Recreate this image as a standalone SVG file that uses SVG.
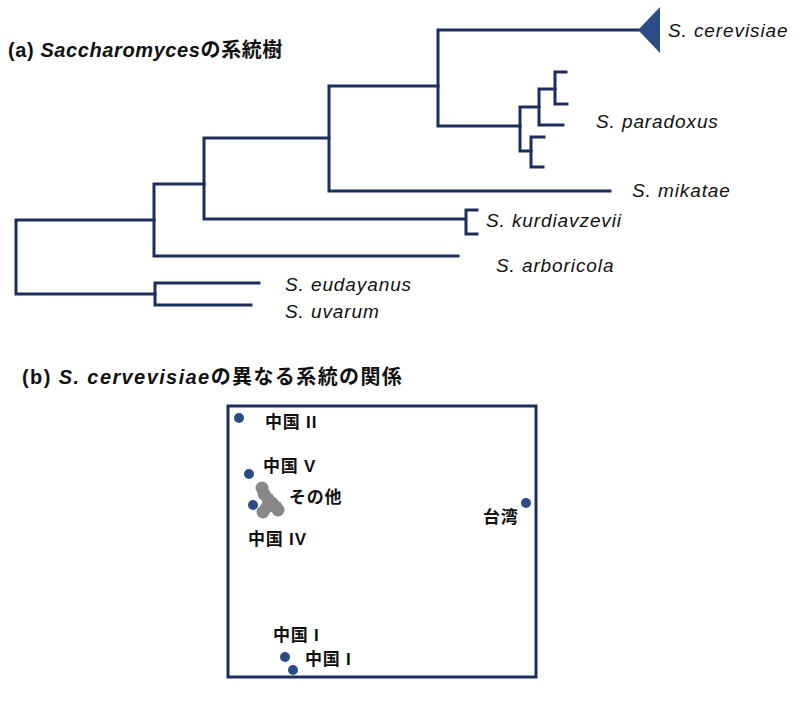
<svg xmlns="http://www.w3.org/2000/svg" width="800" height="709" viewBox="0 0 800 709">
<style>
.br{fill:none;stroke:#1c2f5c;stroke-width:3;stroke-linecap:square;stroke-linejoin:miter}
.sp{font-family:"Liberation Sans","Noto Sans CJK JP",sans-serif;font-style:italic;font-size:19px;fill:#111;letter-spacing:0.9px}
.ttl{font-family:"Liberation Sans","Noto Sans CJK JP",sans-serif;font-size:20px;font-weight:bold;fill:#111}
.lb{font-family:"Liberation Sans","Noto Sans CJK JP",sans-serif;font-size:17px;font-weight:bold;fill:#111;letter-spacing:0.8px}
.dot{fill:#2b4d86}
.gr{fill:#888}
</style>
<rect width="800" height="709" fill="#fff"/>
<g id="title-a"><text class="ttl" x="8" y="57" letter-spacing="0.6">(a) <tspan font-style="italic">Saccharomyces</tspan>の系統樹</text></g>
<g id="connectors">
<path class="br" d="M154,220 H16 V294 H155"/>
<path class="br" d="M259,283 H155 V305 H251"/>
<path class="br" d="M204,184 H154 V256 H458"/>
<path class="br" d="M329,138 H204 V219 H465"/>
<path class="br" d="M477,210 H466 V234 H477"/>
<path class="br" d="M438,86 H329 V191 H610"/>
<path class="br" d="M640,30 H438 V126 H520"/>
<path class="br" d="M539,107 H520 V151 H531"/>
<path class="br" d="M555,89 H539 V125 H563"/>
<path class="br" d="M566,72 H555 V104 H567"/>
<path class="br" d="M544,137 H531 V167 H543"/>
<polygon points="638,30 660,7 660,53" fill="#2b4d86"/>
</g>
<g id="n-cerevisiae"><text class="sp" x="668" y="37">S. cerevisiae</text></g>
<g id="n-paradoxus"><text class="sp" x="596" y="128">S. paradoxus</text></g>
<g id="n-mikatae"><text class="sp" x="632" y="197">S. mikatae</text></g>
<g id="n-kurdiavzevii"><text class="sp" x="486" y="227">S. kurdiavzevii</text></g>
<g id="n-arboricola"><text class="sp" x="496" y="272">S. arboricola</text></g>
<g id="n-eudayanus"><text class="sp" x="285" y="291">S. eudayanus</text></g>
<g id="n-uvarum"><text class="sp" x="285" y="318">S. uvarum</text></g>
<g id="title-b"><text class="ttl" x="22" y="384" letter-spacing="1.4">(b)  <tspan font-style="italic">S. cervevisiae</tspan>の異なる系統の関係</text></g>
<g id="box"><rect x="228" y="406" width="308" height="271" fill="none" stroke="#1c2f5c" stroke-width="3"/></g>
<g id="others">
<circle class="gr" cx="262" cy="488" r="6.5"/>
<circle class="gr" cx="264" cy="494" r="6.5"/>
<circle class="gr" cx="268" cy="499" r="6.5"/>
<circle class="gr" cx="272" cy="503" r="6.5"/>
<circle class="gr" cx="276" cy="507" r="6.5"/>
<circle class="gr" cx="278" cy="510" r="6.5"/>
<circle class="gr" cx="267" cy="507" r="6.5"/>
<circle class="gr" cx="263" cy="512" r="6.5"/>
<text class="lb" x="289" y="503">その他</text>
</g>
<g id="china2"><circle class="dot" cx="239" cy="418" r="5"/><text class="lb" x="265" y="428">中国 II</text></g>
<g id="china5"><circle class="dot" cx="249" cy="474" r="5"/><text class="lb" x="263" y="472">中国 V</text></g>
<g id="china4"><circle class="dot" cx="253" cy="505" r="5"/><text class="lb" x="248" y="545">中国 IV</text></g>
<g id="taiwan"><circle class="dot" cx="526" cy="503" r="5"/><text class="lb" x="483" y="523">台湾</text></g>
<g id="china1a"><circle class="dot" cx="285" cy="657" r="5"/><text class="lb" x="273" y="641">中国 I</text></g>
<g id="china1b"><circle class="dot" cx="293" cy="670" r="5"/><text class="lb" x="305" y="665">中国 I</text></g>
</svg>
